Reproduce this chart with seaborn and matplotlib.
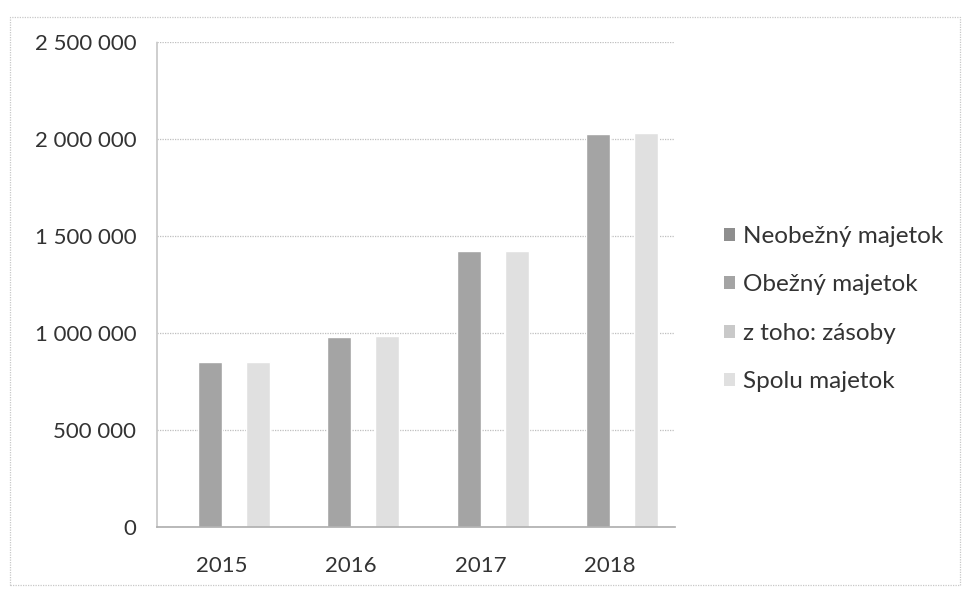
import matplotlib
matplotlib.use("Agg")
import matplotlib.pyplot as plt
import matplotlib.ticker as mticker
from matplotlib.patches import Patch, Rectangle
import seaborn as sns
import pandas as pd

years = ["2015", "2016", "2017", "2018"]
series = ["Neobežný majetok", "Obežný majetok", "z toho: zásoby", "Spolu majetok"]
neobezny = [2000, 2000, 2000, 2000]
obezny = [848000, 980000, 1423000, 2028000]
zasoby = [1000, 1000, 1000, 1000]
spolu = [850000, 982000, 1425000, 2030000]
colors = ["#8e8e8e", "#a4a4a4", "#c9c9c9", "#e0e0e0"]
yticks = [0, 500000, 1000000, 1500000, 2000000, 2500000]

rows = []
for name, vals in zip(series, [neobezny, obezny, zasoby, spolu]):
    for y, v in zip(years, vals):
        rows.append({"year": y, "series": name, "value": v})
df = pd.DataFrame(rows)

sns.set_theme(style="white")
plt.rcParams["font.family"] = ["Lato", "DejaVu Sans"]

fig = plt.figure(figsize=(9.64, 5.91), dpi=100)
ax = fig.add_axes([157/964, 1-527/591, (675-157)/964, (527-42)/591])

sns.barplot(data=df, x="year", y="value", hue="series", hue_order=series,
            palette=colors, width=0.745, ax=ax, legend=False, saturation=1)

ax.set_ylim(0, 2500000)
ax.set_xlim(-0.5, 3.5)
ax.set_yticks(yticks)
ax.yaxis.set_major_formatter(mticker.FuncFormatter(lambda v, p: f"{int(v):,}".replace(",", " ")))
ax.set_xlabel("")
ax.set_ylabel("")
ax.grid(axis="y", color="#bfbfbf", linestyle=(0, (1, 1)), linewidth=0.9)
ax.set_axisbelow(True)
for s in ["top", "right"]:
    ax.spines[s].set_visible(False)
ax.spines["left"].set_color("#c8c8c8")
ax.spines["left"].set_linestyle((0, (1, 1)))
ax.spines["bottom"].set_color("#b0b0b0")
ax.spines["bottom"].set_linestyle((0, (1, 1)))
ax.tick_params(axis="y", length=7, color="#c8c8c8", labelsize=16, labelcolor="#333333", pad=8)
ax.tick_params(axis="x", length=0, labelsize=16, labelcolor="#333333", pad=21)
ax.set_xticks([0.5, 1.5, 2.5], minor=True)
ax.tick_params(axis="x", which="minor", length=6, color="#c8c8c8", direction="out")

handles = [Patch(facecolor=c, edgecolor="none") for c in colors]
fig.legend(handles, series, loc="upper left", bbox_to_anchor=(702/964, 1-204/591),
           frameon=False, fontsize=17.5, labelspacing=1.13, handlelength=0.45,
           handleheight=0.45, handletextpad=0.35, labelcolor="#333333")

fig.patches.append(Rectangle((10/964, 0.01), 0.985, 1-17/591-0.01, transform=fig.transFigure,
                             fill=False, edgecolor="#c8c8c8", linestyle=(0, (1, 1)), linewidth=0.9))

fig.savefig("out.png", dpi=100, facecolor="white")
